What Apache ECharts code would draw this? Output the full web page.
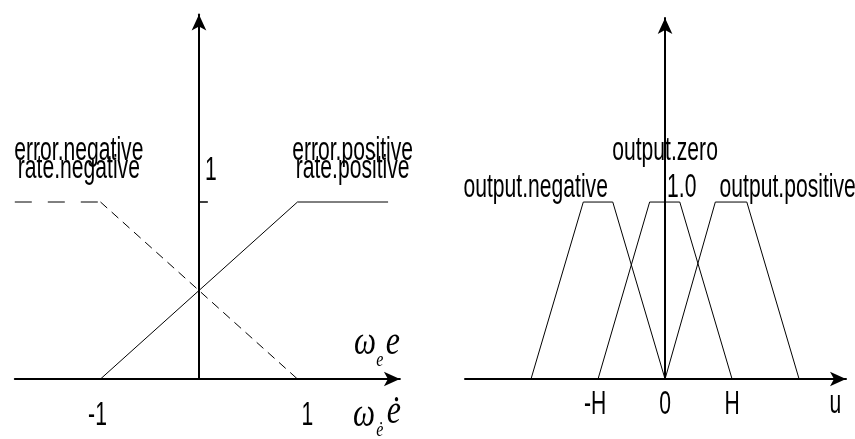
<!DOCTYPE html>
<html>
<head>
<meta charset="utf-8">
<script src="https://cdn.jsdelivr.net/npm/echarts@6/dist/echarts.min.js"></script>
<style>
  html, body { margin: 0; padding: 0; background: #fff; }
  #chart { width: 855px; height: 439px; }
</style>
</head>
<body>
<div id="chart"></div>
<script>
// ---- Left panel: membership functions for error and error rate ----
const errPositive = [[-1, 0], [1, 1], [1.92, 1]];
const errNegativeFlat = [[-1.87, 1], [-1, 1]];
const errNegativeSlope = [[-1, 1], [1, 0]];
const errUnitTick = [[0, 1], [0.09, 1]];
const errTickValues = [-1, 1];
const errTickTexts = ['-1', '1'];
const errSetNames = [['error.negative', 'rate.negative'], ['error.positive', 'rate.positive']];

// ---- Right panel: output membership functions (x in units of H) ----
const outNegative = [[-2, 0], [-1.22, 1], [-0.78, 1], [0, 0]];
const outZero = [[-1, 0], [-0.23, 1], [0.22, 1], [1, 0]];
const outPositive = [[0, 0], [0.75, 1], [1.22, 1], [2, 0]];
const outTickValues = [-1, 0, 1];
const outTickTexts = ['-H', '0', 'H'];
const outSetNames = ['output.negative', 'output.zero', 'output.positive'];
const outPeakText = '1.0';

const chart = echarts.init(document.getElementById('chart'), null, { renderer: 'canvas' });

const INK = '#000';
const axisStyle = {
  show: true,
  onZero: true,
  symbol: ['none', 'arrow'],
  symbolSize: [11, 16],
  lineStyle: { color: INK, width: 2 }
};
function valueAxis(gridIndex, min, max) {
  return {
    type: 'value', gridIndex, min, max,
    axisLine: axisStyle,
    axisTick: { show: false },
    axisLabel: { show: false },
    splitLine: { show: false }
  };
}
function lineSeries(data, axisIndex, lineStyle) {
  return {
    type: 'line', data,
    xAxisIndex: axisIndex, yAxisIndex: axisIndex,
    symbol: 'none', silent: true, animation: false,
    lineStyle: Object.assign({ color: INK, width: 1 }, lineStyle || {})
  };
}

chart.setOption({
  animation: false,
  backgroundColor: '#fff',
  grid: [
    { left: 14.8, top: 14.4, width: 385.1, height: 364.6 },
    { left: 465, top: 18, width: 381, height: 361 }
  ],
  xAxis: [valueAxis(0, -1.87, 2.04), valueAxis(1, -2.985, 2.7)],
  yAxis: [valueAxis(0, 0, 2.06), valueAxis(1, 0, 2.04)],
  series: [
    lineSeries(errPositive, 0),
    lineSeries(errNegativeFlat, 0, { type: [17, 16] }),
    lineSeries(errNegativeSlope, 0, { type: [9, 6] }),
    lineSeries(errUnitTick, 0, { width: 1.5 }),
    lineSeries(outNegative, 1),
    lineSeries(outZero, 1),
    lineSeries(outPositive, 1)
  ]
});

// ---- Text layer, placed through the axes' own scales ----
const SANS = '33px "Liberation Sans", Arial, sans-serif';
const SQUEEZE = 0.64;
function px(grid, x, y) { return chart.convertToPixel({ gridIndex: grid }, [x, y]); }
function label(text, p, dx, dy, opts) {
  opts = opts || {};
  return {
    type: 'text', silent: true,
    x: p[0] + dx, y: p[1] + dy,
    scaleX: opts.scaleX || SQUEEZE,
    style: {
      text, fill: INK,
      font: opts.font || SANS,
      align: 'center', verticalAlign: 'middle'
    }
  };
}

const g = [];
// left tick labels
const errNudge = [-3, 10];
errTickValues.forEach((v, i) => g.push(label(errTickTexts[i], px(0, v, 0), errNudge[i], 37)));
g.push(label('1', px(0, 0, 1), 12, -31));
// left set names
const errNameAnchor = [[-1.22, 1], [1.56, 1]];
errSetNames.forEach((pair, i) => {
  const p = px(0, errNameAnchor[i][0], errNameAnchor[i][1]);
  g.push(label(pair[0], p, 0, -51));
  g.push(label(pair[1], p, 0, -33));
});
// left axis names: ω_e e and ω_ė ė
const SERIF = 'italic 40px "Liberation Serif", "Times New Roman", serif';
const SERIF_SUB = 'italic 20px "Liberation Serif", "Times New Roman", serif';
const axEnd = px(0, 2.04, 0);
g.push(label('ω', axEnd, -35, -36, { font: SERIF, scaleX: 0.78 }));
g.push(label('e', axEnd, -20, -18, { font: SERIF_SUB, scaleX: 0.8 }));
g.push(label('e', axEnd, -7, -36, { font: SERIF, scaleX: 0.8 }));
g.push(label('ω', axEnd, -36, 36, { font: SERIF, scaleX: 0.78 }));
g.push(label('ė', axEnd, -20, 52, { font: SERIF_SUB, scaleX: 0.8 }));
g.push(label('ė', axEnd, -6, 33, { font: SERIF, scaleX: 0.8 }));

// right tick labels
const outNudge = [-3, 0, 0];
outTickValues.forEach((v, i) => g.push(label(outTickTexts[i], px(1, v, 0), outNudge[i], 26)));
g.push(label('u', px(1, 2.54, 0), 0, 25));
// right set names
const outNameAnchor = [[-1.93, 1], [0, 1], [1.83, 1]];
const outNameLift = [-14, -51, -14];
outSetNames.forEach((name, i) => g.push(label(name, px(1, outNameAnchor[i][0], outNameAnchor[i][1]), 0, outNameLift[i])));
g.push(label(outPeakText, px(1, 0.25, 1), 0, -14));

chart.setOption({ graphic: g });
</script>
</body>
</html>
